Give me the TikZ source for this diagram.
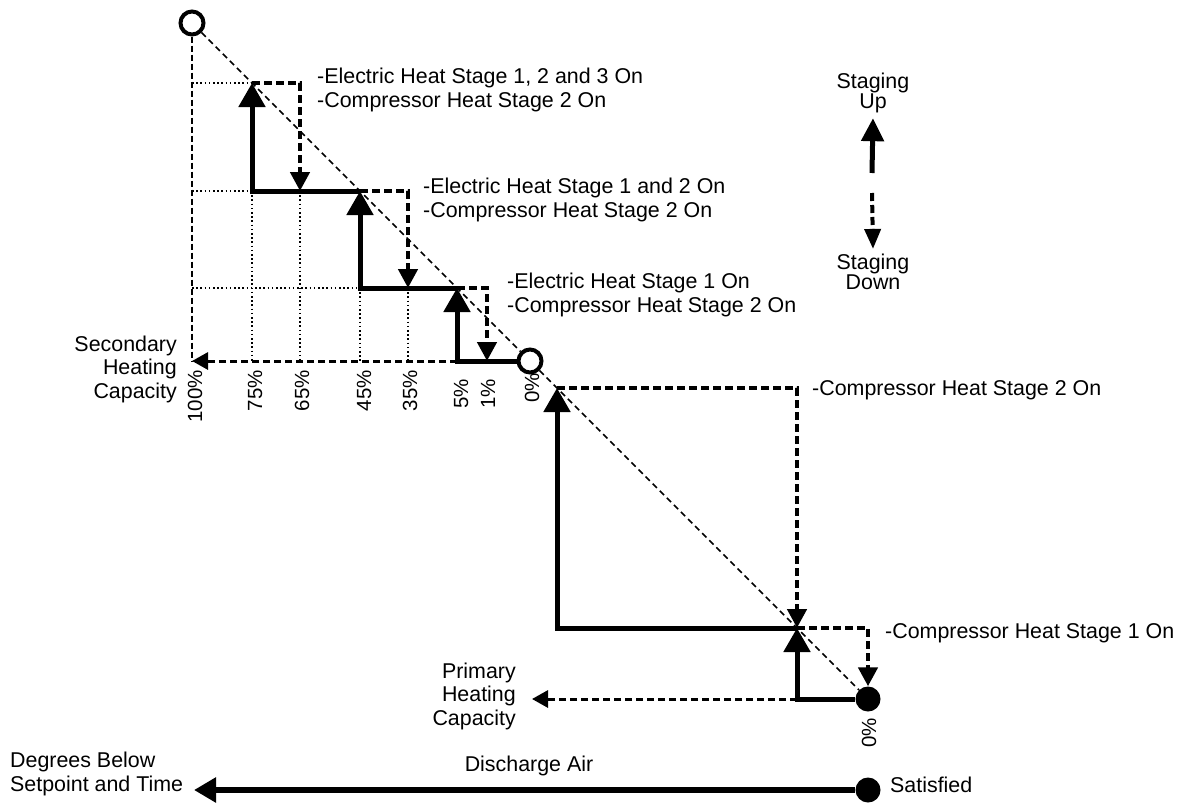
\documentclass[tikz,border=0pt]{standalone}
\usepackage{fontspec}
\setmainfont{Liberation Sans}
\usetikzlibrary{arrows.meta}
\tikzset{
  txt/.style={inner sep=0pt, font=\fontsize{21.4}{23.5}\selectfont},
  pct/.style={inner sep=0pt, font=\fontsize{20.5}{23}\selectfont, rotate=90, anchor=east},
  ring/.style={circle, draw, line width=4pt, fill=white, minimum size=23pt, inner sep=0pt},
  blob/.style={circle, fill, minimum size=25pt, inner sep=0pt},
  diag/.style={line width=1.5pt, dash pattern=on 6pt off 4pt},
  guide/.style={line width=1.6pt, dash pattern=on 1.6pt off 2.6pt},
  axisdash/.style={line width=2pt, dash pattern=on 6pt off 3pt},
  capline/.style={line width=3pt, dash pattern=on 7pt off 4pt, -{Triangle[length=16pt,width=17pt]}},
  stair/.style={line width=5pt, -{Triangle[length=24pt,width=26pt]}},
  stairdash/.style={line width=4.5pt, dash pattern=on 8pt off 4pt, -{Triangle[length=19pt,width=19pt]}},
  legup/.style={line width=5pt, -{Triangle[length=23pt,width=22pt]}},
  legdown/.style={line width=4pt, dash pattern=on 8pt off 4pt, -{Triangle[length=20pt,width=16pt]}},
  axisline/.style={line width=6pt, -{Triangle[length=22pt,width=24pt]}},
}
\begin{document}
\begin{tikzpicture}[x=1pt,y=-1pt]
  \useasboundingbox (0,0) rectangle (1181,803);
  % corners on the staging line
  \coordinate (c75) at (252,83);
  \coordinate (c45) at (360,191);
  \coordinate (c5) at (457,288);
  \coordinate (p2) at (557,388);
  \coordinate (p1) at (797,628);
  \coordinate (d65) at (300,191);
  \coordinate (d35) at (408,288);
  \coordinate (d1) at (487,361);
  \coordinate (sec) at (192,361);
  \coordinate (pri) at (532,699);
  \coordinate (axisend) at (194,790);
  \coordinate (upfoot) at (872,173);
  \coordinate (downtop) at (872,193);
  \node[ring] (top) at (192,23) {};
  \node[ring] (mid) at (530,361) {};
  \node[blob] (p0) at (868,699) {};
  \node[blob] (sat) at (868,790) {};

  \draw[diag] (top) -- (mid);
  \draw[diag] (mid) -- (p0);

  \draw[guide] (top |- c75) -- (c75);
  \draw[guide] (top |- c45) -- (c45);
  \draw[guide] (top |- c5) -- (c5);
  \draw[guide] (c75 |- c45) -- (c75 |- sec);
  \draw[guide] (d65) -- (d65 |- sec);
  \draw[guide] (c45 |- c5) -- (c45 |- sec);
  \draw[guide] (d35) -- (d35 |- sec);

  \draw[axisdash] (top) -- (sec);
  \draw[capline] (c5 |- sec) -- (sec);
  \draw[capline] (p1 |- p0) -- (pri);

  % staging up
  \draw[stair] (mid) -| (c5);
  \draw[stair] (c5) -| (c45);
  \draw[stair] (c45) -| (c75);
  \draw[stair] (p0) -| (p1);
  \draw[stair] (p1) -| (p2);
  % staging down
  \draw[stairdash] (c75) -| (d65);
  \draw[stairdash] (c45) -| (d35);
  \draw[stairdash] (c5) -| (d1);
  \draw[stairdash] (p2) -| (p1);
  \draw[stairdash] (p1) -| (p0);

  \node[pct] (pc100) at (195,370) {100\%};
  \node[pct] (pc75) at (255,370) {75\%};
  \node[pct] (pc65) at (302,370) {65\%};
  \node[pct] (pc45) at (364,370) {45\%};
  \node[pct] (pc35) at (410,370) {35\%};
  \node[pct] (pc5) at (461,379) {5\%};
  \node[pct] (pc1) at (488,379) {1\%};
  \node[pct] (pc0) at (532,373) {0\%};
  \node[pct] (pp0) at (869,718) {0\%};

  \node[txt, anchor=west, align=left] (lab3) at (317,90) {-Electric Heat Stage 1, 2 and 3 On\\-Compressor Heat Stage 2 On};
  \node[txt, anchor=west, align=left] (lab2) at (423,200) {-Electric Heat Stage 1 and 2 On\\-Compressor Heat Stage 2 On};
  \node[txt, anchor=west, align=left] (lab1) at (507,295) {-Electric Heat Stage 1 On\\-Compressor Heat Stage 2 On};
  \node[txt, anchor=west] (labc2) at (812,390) {-Compressor Heat Stage 2 On};
  \node[txt, anchor=west] (labc1) at (885,633) {-Compressor Heat Stage 1 On};

  \node[txt, anchor=east, align=right] (seccap) at (177,369) {Secondary\\Heating\\Capacity};
  \node[txt, anchor=east, align=right] (pricap) at (516,696) {Primary\\Heating\\Capacity};

  \node[txt, align=center, inner sep=5pt, font=\fontsize{21.4}{20}\selectfont] (up) at (873,93) {Staging\\Up};
  \node[txt, align=center, inner sep=5pt, font=\fontsize{21.4}{20}\selectfont] (down) at (873,272) {Staging\\Down};
  \draw[legup] (upfoot) -- (up.south);
  \draw[legdown] (downtop) -- (down.north);

  \node[txt, anchor=west, align=left] (degs) at (10,774) {Degrees Below\\Setpoint and Time};
  \node[txt] (dair) at (529,766) {Discharge Air};
  \node[txt, anchor=west] (satl) at (890,785) {Satisfied};
  \draw[axisline] (sat) -- (axisend);
\end{tikzpicture}
\end{document}
